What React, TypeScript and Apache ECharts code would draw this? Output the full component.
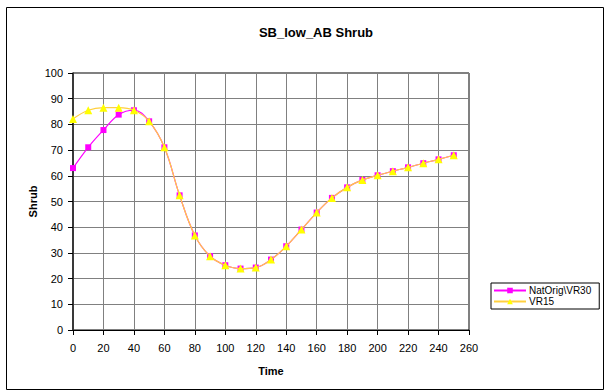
import React, { useEffect, useRef } from "react";
import * as echarts from "echarts";

const times = [0, 10, 20, 30, 40, 50, 60, 70, 80, 90, 100, 110, 120, 130, 140, 150, 160, 170, 180, 190, 200, 210, 220, 230, 240, 250];
const natOrigVR30 = [63.0, 71.1, 77.8, 83.8, 85.5, 81.2, 71.1, 52.4, 36.8, 28.7, 25.2, 23.9, 24.3, 27.4, 32.6, 39.1, 45.7, 51.4, 55.5, 58.4, 60.2, 61.8, 63.3, 64.9, 66.4, 68.0];
const vr15 = [82.1, 85.5, 86.5, 86.5, 85.5, 81.2, 71.1, 52.4, 36.8, 28.7, 25.2, 23.9, 24.3, 27.4, 32.6, 39.1, 45.7, 51.4, 55.5, 58.4, 60.2, 61.8, 63.3, 64.9, 66.4, 68.0];
const seriesNames = ["NatOrig\\VR30", "VR15"];
const titleText = "SB_low_AB Shrub";
const xName = "Time";
const yName = "Shrub";

export default function App() {
  const ref = useRef<HTMLDivElement>(null);
  useEffect(() => {
    if (!ref.current) return;
    const chart = echarts.init(ref.current, null, { renderer: "svg" });
    const font = "Arial, 'Liberation Sans', sans-serif";
    chart.setOption({
      animation: false,
      backgroundColor: "#ffffff",
      title: {
        text: titleText,
        left: 311,
        textAlign: "center",
        top: 21,
        textStyle: { fontSize: 13, fontWeight: "bold", color: "#000", fontFamily: font },
      },
      graphic: [
        {
          type: "rect",
          shape: { x: 6.5, y: 7.5, width: 597, height: 382 },
          style: { fill: "none", stroke: "#000", lineWidth: 1 },
          silent: true,
        },
      ],
      legend: {
        orient: "vertical",
        left: 491,
        top: 283,
        width: 110,
        padding: [2, 8, 2, 2],
        itemGap: 0,
        itemWidth: 32,
        itemHeight: 7,
        borderColor: "#000",
        borderWidth: 1,
        backgroundColor: "#fff",
        textStyle: { fontSize: 10, color: "#000", fontFamily: font, lineHeight: 11, padding: [0, 0, 0, -2] },
        data: seriesNames,
      },
      grid: {
        left: 73,
        top: 73,
        right: 144,
        bottom: 61,
        show: true,
        borderColor: "#000",
        borderWidth: 1,
        backgroundColor: "#fff",
      },
      xAxis: {
        type: "value",
        min: 0,
        max: 260,
        interval: 20,
        name: xName,
        nameLocation: "middle",
        nameGap: 35,
        nameMoveOverlap: false,
        nameTextStyle: { fontSize: 11, fontWeight: "bold", color: "#000", fontFamily: font },
        axisLine: { show: true, lineStyle: { color: "#000", width: 1 } },
        axisTick: { show: true, length: 5, lineStyle: { color: "#000" } },
        axisLabel: { fontSize: 11, color: "#000", fontFamily: font, margin: 12 },
        splitLine: { show: true, lineStyle: { color: "#808080", width: 1 } },
      },
      yAxis: {
        type: "value",
        min: 0,
        max: 100,
        interval: 10,
        name: yName,
        nameLocation: "middle",
        nameGap: 35,
        nameMoveOverlap: false,
        nameRotate: 90,
        nameTextStyle: { fontSize: 11, fontWeight: "bold", color: "#000", fontFamily: font },
        axisLine: { show: true, lineStyle: { color: "#222", width: 1.5 } },
        axisTick: { show: true, length: 5, lineStyle: { color: "#000" } },
        axisLabel: { fontSize: 11, color: "#000", fontFamily: font, margin: 10 },
        splitLine: { show: true, lineStyle: { color: "#808080", width: 1 } },
      },
      series: [
        {
          name: seriesNames[0],
          type: "line",
          data: times.map((t, i) => [t, natOrigVR30[i]]),
          smooth: 0.4,
          symbol: "rect",
          symbolSize: 6,
          z: 2,
          lineStyle: { color: "#FF00FF", width: 1.2 },
          itemStyle: { color: "#FF00FF" },
        },
        {
          name: seriesNames[1],
          type: "line",
          data: times.map((t, i) => [t, vr15[i]]),
          smooth: 0.4,
          symbol: "triangle",
          symbolSize: 8,
          z: 3,
          lineStyle: { color: "#FFD040", width: 1.2 },
          itemStyle: { color: "#FFFF00" },
        },
      ],
    });
    return () => chart.dispose();
  }, []);
  return <div ref={ref} style={{ width: 613, height: 391, position: "absolute", left: 0, top: 0 }} />;
}
